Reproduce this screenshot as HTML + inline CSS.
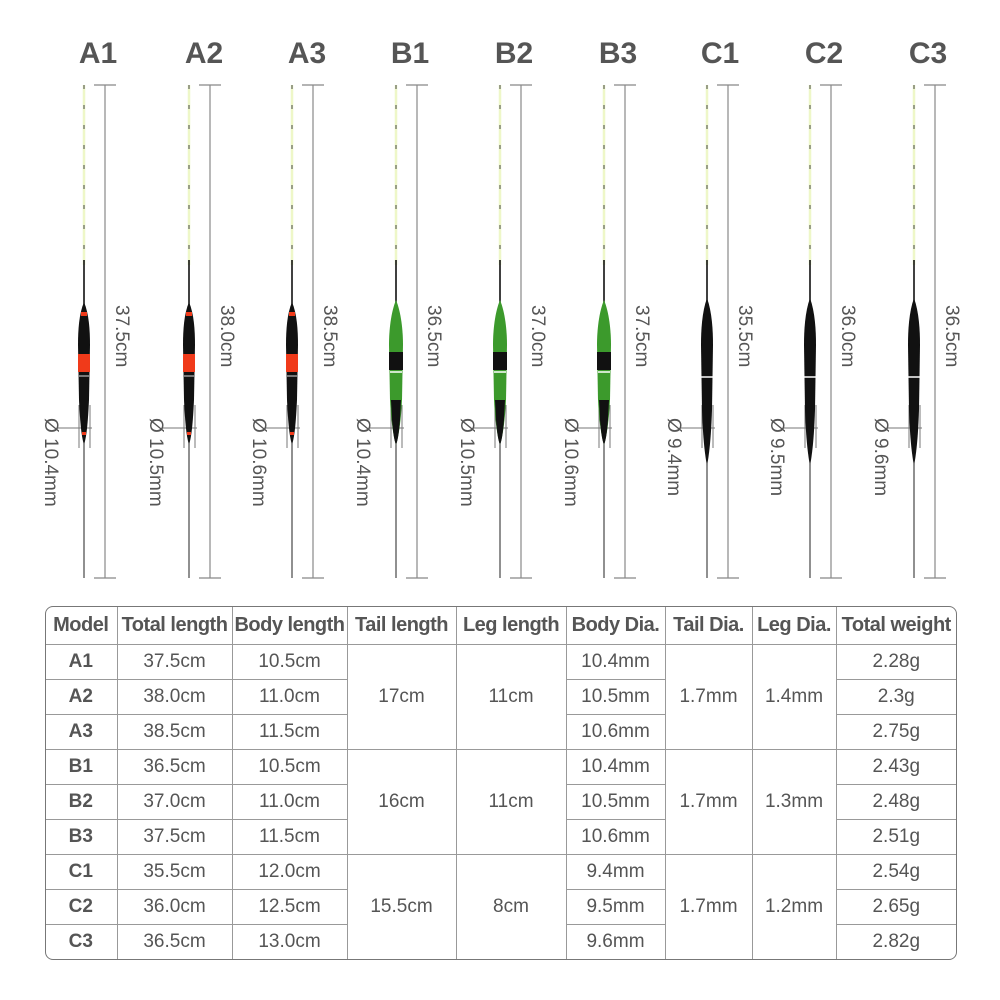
<!DOCTYPE html>
<html><head><meta charset="utf-8"><style>
body{margin:0;background:#fff;}
svg{display:block}
.h{font-family:"Liberation Sans",sans-serif;font-weight:bold;font-size:30px;fill:#555;text-anchor:middle}
.m{font-family:"Liberation Sans",sans-serif;font-size:19px;fill:#555}
table{position:absolute;left:45px;top:606px;border-collapse:collapse;border-style:hidden;font-family:"Liberation Sans",sans-serif;color:#555;font-size:19px}
td{border:1.5px solid #999;text-align:center;padding:0;height:34px}
.wrap{position:absolute;left:45px;top:606px;width:912px;height:354px;border:1.5px solid #777;border-radius:8px;box-sizing:border-box;pointer-events:none}
th{border:1.5px solid #999;font-weight:bold;font-size:20px;height:38px;letter-spacing:-0.5px;padding:0}
td.b{font-weight:bold}
</style></head><body>
<svg width="1000" height="600" viewBox="0 0 1000 600">
<defs>
<g id="common">
<line x1="0" y1="85" x2="0" y2="265" stroke="#eef7c8" stroke-width="2.5"/>
<line x1="0" y1="85" x2="0" y2="265" stroke="#444" stroke-width="1" stroke-dasharray="4 16"/>
<line x1="0" y1="260" x2="0" y2="310" stroke="#111" stroke-width="1.6"/>
<line x1="0" y1="440" x2="0" y2="578" stroke="#222" stroke-width="1"/>
<line x1="21" y1="85" x2="21" y2="578" stroke="#888" stroke-width="1.2"/>
<line x1="10" y1="85" x2="32" y2="85" stroke="#888" stroke-width="1.2"/>
<line x1="10" y1="578" x2="32" y2="578" stroke="#888" stroke-width="1.2"/>
<line x1="-27" y1="428" x2="8" y2="428" stroke="#777" stroke-width="1"/>
<line x1="-5" y1="405" x2="-5" y2="448" stroke="#777" stroke-width="1"/>
<line x1="6" y1="405" x2="6" y2="448" stroke="#777" stroke-width="1"/>
</g>
<g id="fa">
<use href="#common"/>
<path d="M0,302 C5,314 6,330 6,345 L5,400 C4,420 3,435 0,445 C-3,435 -4,420 -5,400 L-6,345 C-6,330 -5,314 0,302Z" fill="#111"/>
<rect x="-6" y="354" width="12" height="18" fill="#f03a1a"/>
<rect x="-3" y="312" width="6" height="4" fill="#f03a1a"/>
<rect x="-2" y="432" width="4" height="3" fill="#f03a1a"/>
<line x1="-5" y1="376" x2="5" y2="376" stroke="#ddd" stroke-width="1"/>
</g>
<g id="fb">
<use href="#common"/>
<path d="M0,300 C5,312 7,330 7,345 L6,400 C5,420 3,435 0,445 C-3,435 -5,420 -6,400 L-7,345 C-7,330 -5,312 0,300Z" fill="#3c9a2c"/>
<rect x="-7" y="352" width="14" height="18" fill="#111"/>
<line x1="-6" y1="372" x2="6" y2="372" stroke="#fff" stroke-width="1.5"/>
<path d="M-5,400 L5,400 L4,420 C3,432 2,440 0,445 C-2,440 -3,432 -4,420Z" fill="#111"/>
</g>
<g id="fc">
<use href="#common"/>
<path d="M0,298 C5,312 6,330 6,345 L5,410 C4,440 2,455 0,466 C-2,455 -4,440 -5,410 L-6,345 C-6,330 -5,312 0,298Z" fill="#111"/>
<line x1="-6" y1="377" x2="6" y2="377" stroke="#fff" stroke-width="1.5"/>
</g>
</defs>
<g class="h">
<text x="98" y="63">A1</text><text x="204" y="63">A2</text><text x="307" y="63">A3</text>
<text x="410" y="63">B1</text><text x="514" y="63">B2</text><text x="618" y="63">B3</text>
<text x="720" y="63">C1</text><text x="824" y="63">C2</text><text x="928" y="63">C3</text>
</g>
<use href="#fa" x="84"/><use href="#fa" x="189"/><use href="#fa" x="292"/>
<use href="#fb" x="396"/><use href="#fb" x="500"/><use href="#fb" x="604"/>
<use href="#fc" x="707"/><use href="#fc" x="810"/><use href="#fc" x="914"/>
<g class="m">
<text transform="translate(116,305) rotate(90)">37.5cm</text>
<text transform="translate(221,305) rotate(90)">38.0cm</text>
<text transform="translate(324,305) rotate(90)">38.5cm</text>
<text transform="translate(428,305) rotate(90)">36.5cm</text>
<text transform="translate(532,305) rotate(90)">37.0cm</text>
<text transform="translate(636,305) rotate(90)">37.5cm</text>
<text transform="translate(739,305) rotate(90)">35.5cm</text>
<text transform="translate(842,305) rotate(90)">36.0cm</text>
<text transform="translate(946,305) rotate(90)">36.5cm</text>
<text transform="translate(45,418) rotate(90)">Ø 10.4mm</text>
<text transform="translate(150,418) rotate(90)">Ø 10.5mm</text>
<text transform="translate(253,418) rotate(90)">Ø 10.6mm</text>
<text transform="translate(357,418) rotate(90)">Ø 10.4mm</text>
<text transform="translate(461,418) rotate(90)">Ø 10.5mm</text>
<text transform="translate(565,418) rotate(90)">Ø 10.6mm</text>
<text transform="translate(668,418) rotate(90)">Ø 9.4mm</text>
<text transform="translate(771,418) rotate(90)">Ø 9.5mm</text>
<text transform="translate(875,418) rotate(90)">Ø 9.6mm</text>
</g>
</svg>
<table>
<colgroup><col style="width:72px"><col style="width:115px"><col style="width:115px"><col style="width:109px"><col style="width:110px"><col style="width:99px"><col style="width:87px"><col style="width:84px"><col style="width:120px"></colgroup>
<tr><th>Model</th><th>Total length</th><th>Body length</th><th>Tail length</th><th>Leg length</th><th>Body Dia.</th><th>Tail Dia.</th><th>Leg Dia.</th><th>Total weight</th></tr>
<tr><td class="b">A1</td><td>37.5cm</td><td>10.5cm</td><td rowspan="3">17cm</td><td rowspan="3">11cm</td><td>10.4mm</td><td rowspan="3">1.7mm</td><td rowspan="3">1.4mm</td><td>2.28g</td></tr>
<tr><td class="b">A2</td><td>38.0cm</td><td>11.0cm</td><td>10.5mm</td><td>2.3g</td></tr>
<tr><td class="b">A3</td><td>38.5cm</td><td>11.5cm</td><td>10.6mm</td><td>2.75g</td></tr>
<tr><td class="b">B1</td><td>36.5cm</td><td>10.5cm</td><td rowspan="3">16cm</td><td rowspan="3">11cm</td><td>10.4mm</td><td rowspan="3">1.7mm</td><td rowspan="3">1.3mm</td><td>2.43g</td></tr>
<tr><td class="b">B2</td><td>37.0cm</td><td>11.0cm</td><td>10.5mm</td><td>2.48g</td></tr>
<tr><td class="b">B3</td><td>37.5cm</td><td>11.5cm</td><td>10.6mm</td><td>2.51g</td></tr>
<tr><td class="b">C1</td><td>35.5cm</td><td>12.0cm</td><td rowspan="3">15.5cm</td><td rowspan="3">8cm</td><td>9.4mm</td><td rowspan="3">1.7mm</td><td rowspan="3">1.2mm</td><td>2.54g</td></tr>
<tr><td class="b">C2</td><td>36.0cm</td><td>12.5cm</td><td>9.5mm</td><td>2.65g</td></tr>
<tr><td class="b">C3</td><td>36.5cm</td><td>13.0cm</td><td>9.6mm</td><td>2.82g</td></tr>
</table>
<div class="wrap"></div>
</body></html>
